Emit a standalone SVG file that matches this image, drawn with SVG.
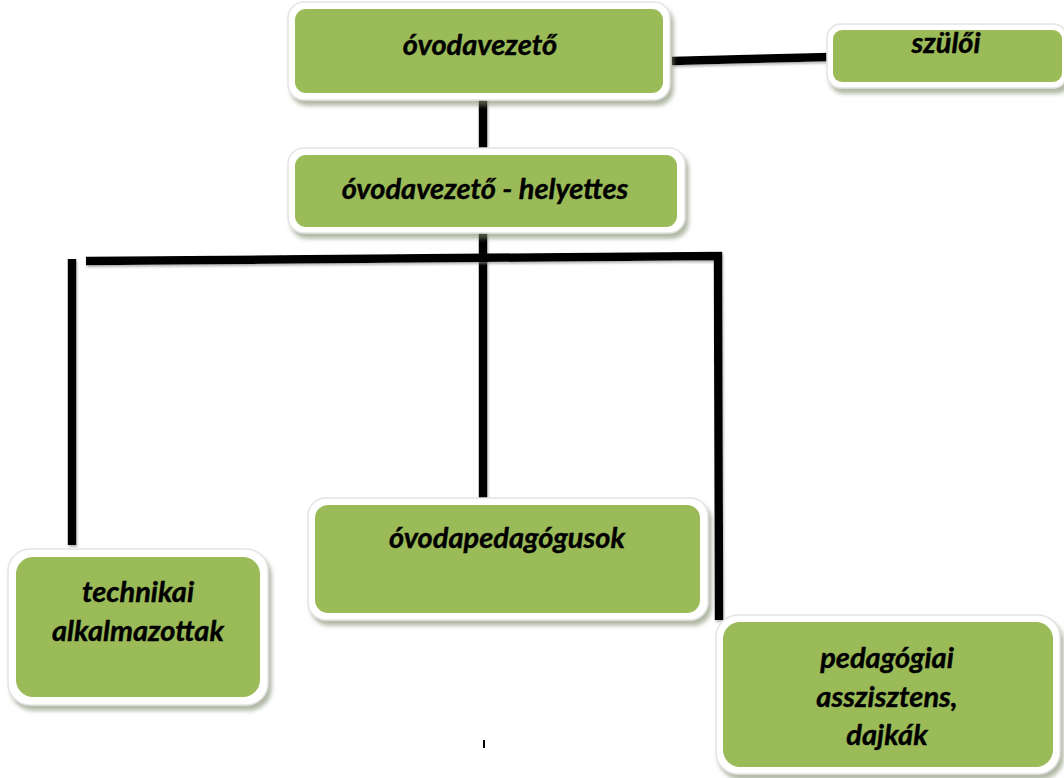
<svg xmlns="http://www.w3.org/2000/svg" width="1064" height="778" viewBox="0 0 1064 778">
<defs>
<filter id="sh" x="-10%" y="-10%" width="125%" height="130%">
<feDropShadow dx="3" dy="5" stdDeviation="2" flood-color="#7f8a6a" flood-opacity="0.6"/>
</filter>
<filter id="lsh" filterUnits="userSpaceOnUse" x="0" y="0" width="1064" height="778">
<feDropShadow dx="1" dy="2" stdDeviation="1" flood-color="#888" flood-opacity="0.6"/>
</filter>
</defs>
<style>
.outer{fill:#ffffff;stroke:#e4e4e4;stroke-width:1.5;filter:url(#sh)}
.inner{fill:#9bbb59}
.t{font-family:"Lato","Liberation Sans",sans-serif;font-weight:bold;font-style:italic;font-size:29px;fill:#000;text-anchor:middle;stroke:#000;stroke-width:0.4}
.c{stroke:#000;stroke-width:8.5;fill:none;filter:url(#lsh)}
</style>
<rect width="1064" height="778" fill="#ffffff"/>
<g id="connectors">
<line class="c" x1="672" y1="61" x2="830" y2="57"/>
<line class="c" x1="483" y1="99" x2="483" y2="150"/>
<line class="c" x1="483" y1="233" x2="483" y2="499"/>
<polyline class="c" points="86,261 718,256 719,620"/>
<line class="c" x1="72" y1="259" x2="72" y2="545"/>
<line x1="484" y1="740" x2="484" y2="748" stroke="#000" stroke-width="2"/>
</g>
<g id="n1">
<rect class="outer" x="288" y="2" width="382" height="98" rx="16"/>
<rect class="inner" x="295" y="9" width="368" height="84" rx="11"/>
<text class="t" x="480" y="55">óvodavezető</text>
</g>
<g id="n2">
<rect class="outer" x="827" y="24" width="240" height="64" rx="14"/>
<rect class="inner" x="833" y="30" width="229" height="52" rx="9"/>
<text class="t" x="946" y="53">szülői</text>
</g>
<g id="n3">
<rect class="outer" x="288" y="148" width="397" height="85" rx="16"/>
<rect class="inner" x="295" y="155" width="382" height="72" rx="11"/>
<text class="t" x="485" y="199">óvodavezető - helyettes</text>
</g>
<g id="n4">
<rect class="outer" x="8" y="549" width="260" height="156" rx="22"/>
<rect class="inner" x="16" y="557" width="244" height="140" rx="17"/>
<text class="t" x="138" y="602">technikai</text>
<text class="t" x="138" y="641">alkalmazottak</text>
</g>
<g id="n5">
<rect class="outer" x="308" y="498" width="400" height="122" rx="18"/>
<rect class="inner" x="315" y="505" width="385" height="108" rx="13"/>
<text class="t" x="507" y="548">óvodapedagógusok</text>
</g>
<g id="n6">
<rect class="outer" x="716" y="615" width="344" height="159" rx="22"/>
<rect class="inner" x="723" y="622" width="330" height="145" rx="17"/>
<text class="t" x="887" y="668">pedagógiai</text>
<text class="t" x="887" y="707">asszisztens,</text>
<text class="t" x="887" y="745">dajkák</text>
</g>
</svg>
